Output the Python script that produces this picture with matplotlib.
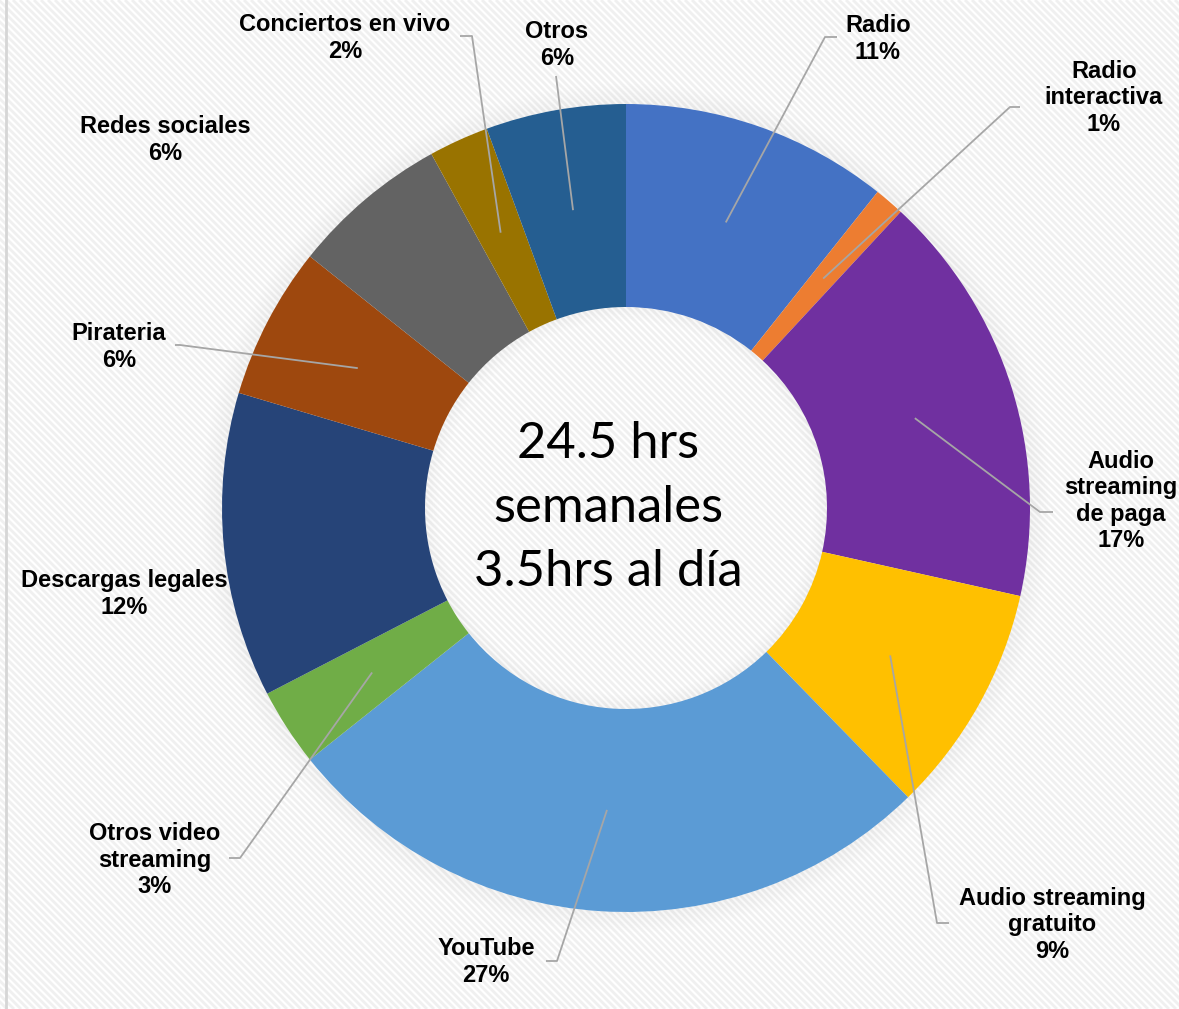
import matplotlib
matplotlib.use("Agg")
import matplotlib.pyplot as plt
from matplotlib.patches import Wedge
import numpy as np

# ---------------- data ----------------
categories = ["Radio", "Radio\ninteractiva", "Audio\nstreaming\nde paga", "Audio streaming\ngratuito",
              "YouTube", "Otros video\nstreaming", "Descargas legales", "Pirateria",
              "Redes sociales", "Conciertos en vivo", "Otros"]
values = [10.7, 1.2, 16.6, 9.2, 26.6, 3.1, 12.2, 6.1, 6.3, 2.4, 5.6]
colors = ["#4472C4", "#ED7D31", "#7030A0", "#FFC000", "#5B9BD5", "#70AD47",
          "#264478", "#9E480E", "#636363", "#997300", "#255E91"]
center_text = "24.5 hrs\nsemanales\n3.5hrs al día"

# ---------------- layout (pixel positions of labels / leader elbows) ----------------
W, H = 1179, 1009
CX, CY = 626, 508
R_OUT, R_IN = 404, 201
label_pos = [(878, 39), (1104, 98), (1121, 501), (1052, 925), (486, 962), (155, 860),
             (124, 594), (119, 347), (165, 140), (345, 38), (557, 45)]
leader = [((825, 37), (837, 37)), ((1010, 107), (1020, 107)), ((1040, 512), (1053, 512)),
          ((937, 923), (949, 923)), ((557, 961), (546, 961)), ((240, 858), (229, 858)),
          None, ((180, 345), (175, 345)), None, ((472, 36), (460, 36)), ((556, 76), None)]


def to_data(p):
    return (p[0] - CX, CY - p[1])


fig = plt.figure(figsize=(W / 100, H / 100), dpi=100)
fig.patch.set_facecolor("white")
ax = fig.add_axes([0, 0, 1, 1])
ax.set_xlim(-CX, W - CX)
ax.set_ylim(CY - H, CY)
ax.set_aspect("equal")
ax.axis("off")

# background diagonal stripes (decoration)
top, bot = CY, CY - H
for x0 in np.arange(-CX - H, W - CX, 7.0):
    ax.plot([x0, x0 + H], [top, bot], color="#f0f0f0", lw=2.0, zorder=0,
            solid_capstyle="butt")
ax.plot([6 - CX, 6 - CX], [CY - H, CY], color="#d6d6d6", lw=2, zorder=1)

# soft shadow outside donut and inside hole
n = 18
for i in range(n):
    a = 0.035 * (1 - i / n)
    ax.add_patch(Wedge((0, 0), R_OUT + 1.2 * (i + 1), 0, 360, width=1.2,
                       facecolor="black", edgecolor="none", alpha=a, zorder=2))
for i in range(n):
    a = 0.03 * (1 - i / n)
    ax.add_patch(Wedge((0, 0), R_IN - 0.8 * i, 0, 360, width=0.8,
                       facecolor="black", edgecolor="none", alpha=a, zorder=4))

wedges, _ = ax.pie(values, colors=colors, startangle=90, counterclock=False,
                   radius=R_OUT, center=(0, 0),
                   wedgeprops=dict(width=R_OUT - R_IN, edgecolor="none"))
for w in wedges:
    w.set_zorder(3)
ax.set_xlim(-CX, W - CX)
ax.set_ylim(CY - H, CY)

total = sum(values)
lab_font = dict(family=["Liberation Sans", "DejaVu Sans"], fontsize=17, fontweight="bold",
                color="black", ha="center", va="center", linespacing=1.2, zorder=6)
r_mid = (R_OUT + R_IN) / 2
for w, cat, v, lp, ld in zip(wedges, categories, values, label_pos, leader):
    pct = int(round(v / total * 100))
    x, y = to_data(lp)
    ax.text(x, y, f"{cat}\n{pct}%", **lab_font)
    if ld is not None:
        ang = np.deg2rad((w.theta1 + w.theta2) / 2)
        sx, sy = r_mid * np.cos(ang), r_mid * np.sin(ang)
        e1 = to_data(ld[0])
        xs, ys = [sx, e1[0]], [sy, e1[1]]
        if ld[1] is not None:
            e2 = to_data(ld[1])
            xs.append(e2[0]); ys.append(e2[1])
        ax.plot(xs, ys, color="#a6a6a6", lw=1.3, zorder=5, solid_capstyle="butt")

ax.text(-18, 0, center_text, family=["Lato", "DejaVu Sans"], fontsize=36.5, ha="center",
        va="center", linespacing=1.5, color="black", zorder=6)

fig.savefig("out.png", dpi=100)
